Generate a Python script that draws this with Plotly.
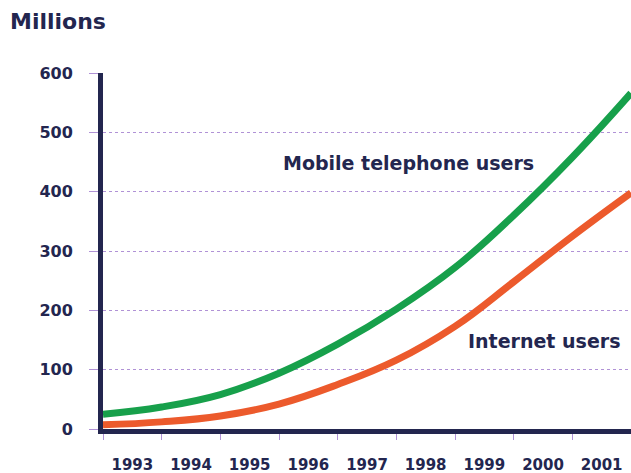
import plotly.graph_objects as go

years = [1993, 1994, 1995, 1996, 1997, 1998, 1999, 2000, 2001, 2002]
mobile_users = [25, 37, 58, 94, 143, 202, 272, 360, 458, 566]
internet_users = [7, 12, 22, 42, 75, 116, 173, 248, 325, 398]
label_years = [1993, 1994, 1995, 1996, 1997, 1998, 1999, 2000, 2001]
y_ticks = [0, 100, 200, 300, 400, 500, 600]

navy = "#23264f"
grid = "rgba(150,110,200,0.75)"
font_family = "DejaVu Sans, Verdana, sans-serif"

fig = go.Figure()
fig.add_trace(go.Scatter(x=years, y=mobile_users, mode="lines",
                         line=dict(color="#17a04b", width=7, shape="spline", smoothing=1.2),
                         showlegend=False, hoverinfo="skip"))
fig.add_trace(go.Scatter(x=years, y=internet_users, mode="lines",
                         line=dict(color="#ec5a2c", width=7, shape="spline", smoothing=1.2),
                         showlegend=False, hoverinfo="skip"))

fig.add_annotation(x=1998.21, y=449, text="Mobile telephone users", showarrow=False,
                   font=dict(family=font_family, size=19, color=navy, weight="bold"))
fig.add_annotation(x=2000.51, y=148, text="Internet users", showarrow=False,
                   font=dict(family=font_family, size=19, color=navy, weight="bold"))
fig.add_annotation(x=-95 / 528, y=1 + (73 - 22) / 356, xref="paper", yref="paper",
                   text="Millions", showarrow=False, xanchor="left", yanchor="middle",
                   font=dict(family=font_family, size=22, color=navy, weight="bold"))

fig.update_layout(
    width=631, height=473,
    margin=dict(l=103, r=0, t=73, b=44),
    paper_bgcolor="white", plot_bgcolor="white",
    xaxis=dict(
        range=[1993, 2002],
        tickmode="array",
        tickvals=[y + 0.5 for y in label_years],
        ticktext=[str(y) for y in label_years],
        ticks="", showgrid=False, zeroline=False,
        showline=True, linecolor=navy, linewidth=5,
        ticklabelstandoff=18,
        tickfont=dict(family=font_family, size=15, color=navy, weight="bold"),
        minor=dict(tickmode="linear", tick0=1993, dtick=1, ticks="outside",
                   ticklen=6, tickwidth=1, tickcolor=grid, showgrid=False),
    ),
    yaxis=dict(
        range=[0, 600],
        tickmode="array", tickvals=y_ticks,
        ticks="outside", ticklen=9, tickcolor=grid, tickwidth=1,
        showgrid=True, gridcolor=grid, griddash="dot", gridwidth=1,
        zeroline=False,
        showline=True, linecolor=navy, linewidth=5,
        ticklabelstandoff=13,
        tickfont=dict(family=font_family, size=16, color=navy, weight="bold"),
    ),
)

fig.write_html("out.html", config={"displayModeBar": False},
               post_script="document.body.style.margin='0';")
